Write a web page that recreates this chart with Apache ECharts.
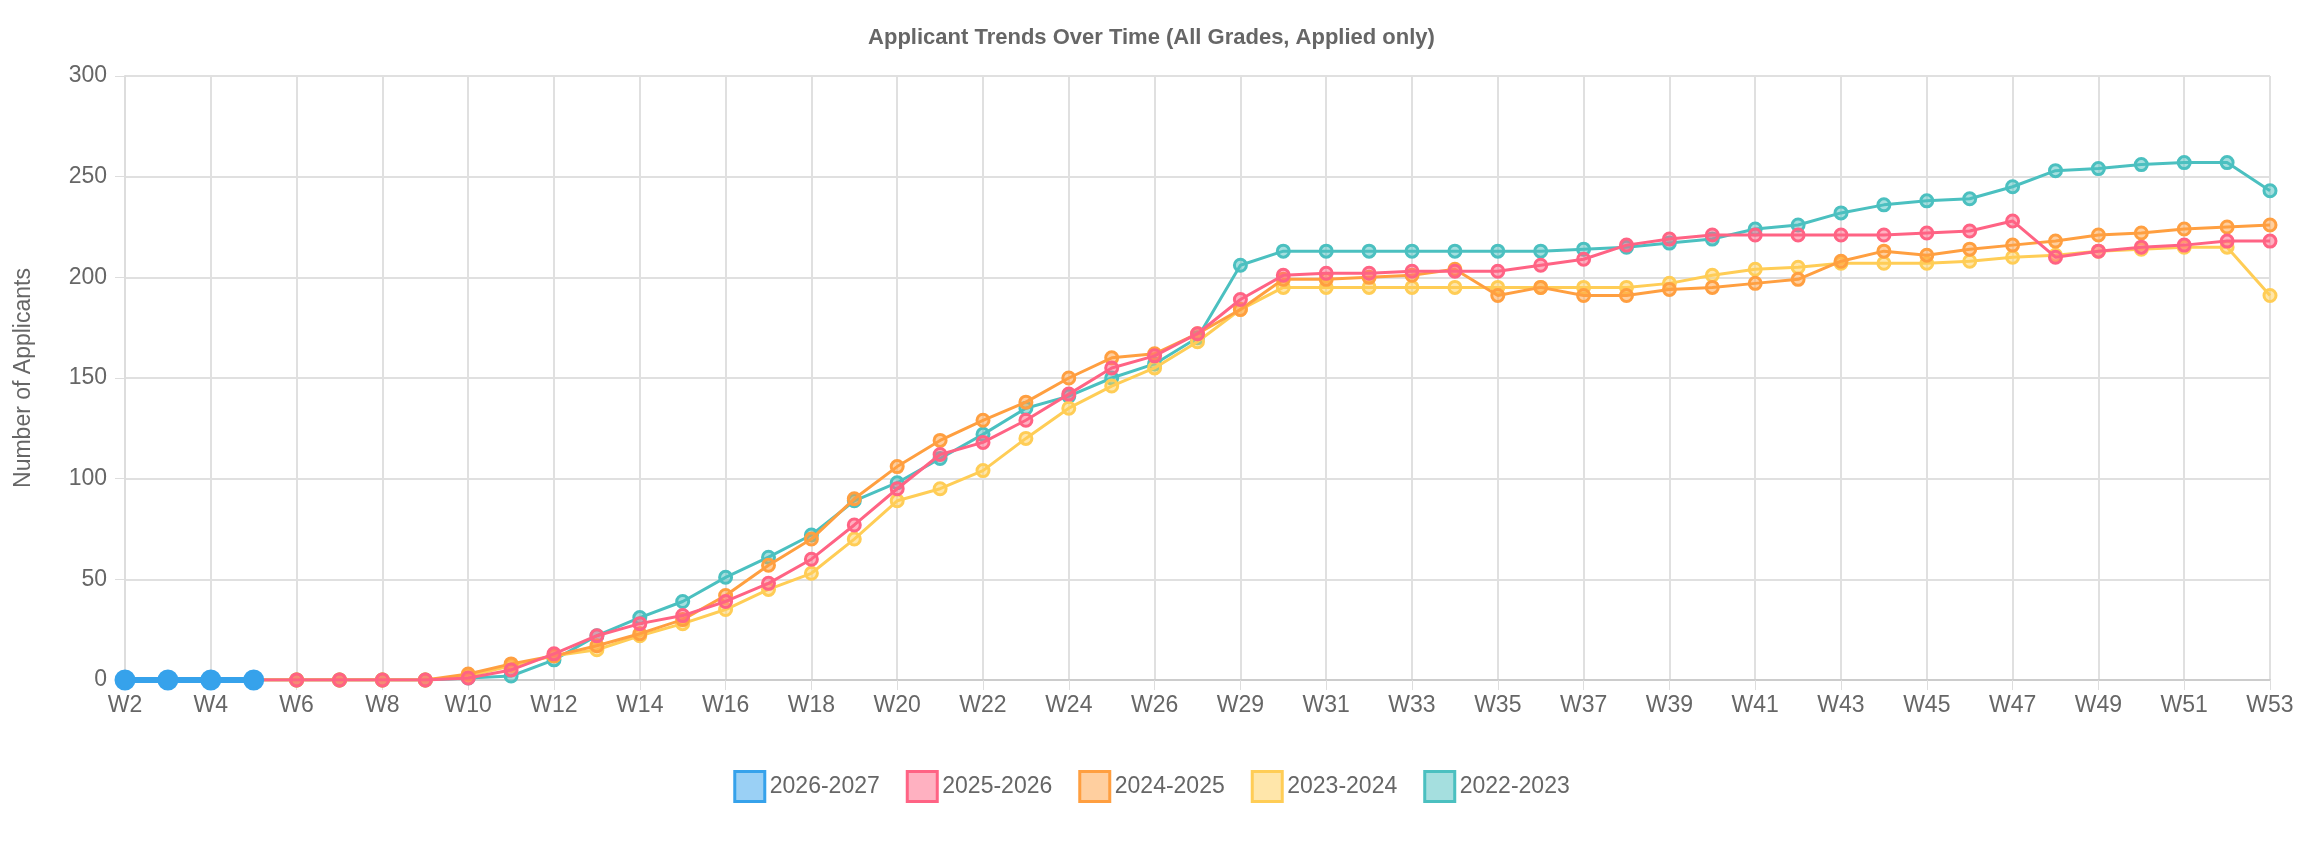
<!DOCTYPE html>
<html><head><meta charset="utf-8">
<script src="https://cdn.jsdelivr.net/npm/echarts@6/dist/echarts.min.js"></script>
<style>html,body{margin:0;padding:0;background:#fff}#c{width:2303px;height:844px}</style>
</head><body><div id="c"></div>
<script>
const weeks = [];
for (let w = 2; w <= 27; w++) weeks.push('W' + w);
for (let w = 29; w <= 53; w++) weeks.push('W' + w);
const Z8 = [0,0,0,0,0,0,0,0];
const s2026 = [0,0,0,0];
const s2025 = [...Z8,1,5,13,22,28,32,39,48,60,77,95,112,118,129,142,155,161,172,189,201,202,202,203,203,203,206,209,216,219,221,221,221,221,221,222,223,228,210,213,215,216,218,218];
const s2024 = [...Z8,3,8,12,17,23,30,42,57,70,90,106,119,129,138,150,160,162,172,184,199,199,200,201,204,191,195,191,191,194,195,197,199,208,213,211,214,216,218,221,222,224,225,226];
const s2023 = [...Z8,2,7,12,15,22,28,35,45,53,70,89,95,104,120,135,146,155,168,184,195,195,195,195,195,195,195,195,195,197,201,204,205,207,207,207,208,210,211,213,214,215,215,191];
const s2022 = [...Z8,1,2,10,22,31,39,51,61,72,89,98,110,122,135,141,150,157,170,206,213,213,213,213,213,213,213,214,215,217,219,224,226,232,236,238,239,245,253,254,256,257,257,243];
const names = ['2026-2027','2025-2026','2024-2025','2023-2024','2022-2023'];
const colors = ['#36A2EB','#FF6384','#FF9F40','#FFCD56','#4BC0C0'];
const fills = ['rgba(54,162,235,0.5)','rgba(255,99,132,0.5)','rgba(255,159,64,0.5)','rgba(255,205,86,0.5)','rgba(75,192,192,0.5)'];
const datas = [s2026,s2025,s2024,s2023,s2022];
const series = datas.map((d,i)=>({
  name: names[i], type:'line', data:d, z: 10-i,
  symbol:'circle', symbolSize: i===0?18:12, showAllSymbol:true,
  lineStyle:{color:colors[i], width: i===0?6:3},
  itemStyle:{color: i===0?colors[i]:fills[i], borderColor:colors[i], borderWidth:3},
  emphasis:{disabled:true}
}));
const chart = echarts.init(document.getElementById('c'));
chart.setOption({
  animation:false,
  title:{text:'Applicant Trends Over Time (All Grades, Applied only)', left:'center', top:22,
    textStyle:{fontFamily:'Helvetica, Liberation Sans, Arial', fontSize:22, fontWeight:'bold', color:'#666'}},
  legend:{bottom:36, itemWidth:30, itemHeight:30, itemGap:26, icon:'rect',
    textStyle:{fontFamily:'Liberation Sans', fontSize:23, color:'#666'},
    data: names.map((n,i)=>({name:n, itemStyle:{color:fills[i], borderColor:colors[i], borderWidth:3}}))},
  grid:{left:125, right:33, top:76, bottom:164},
  xAxis:{type:'category', data:weeks, boundaryGap:false,
    axisLabel:{interval:1, fontFamily:'Liberation Sans', fontSize:23, color:'#666', margin:14},
    axisTick:{show:true, interval:1, length:10, lineStyle:{color:'#ddd'}},
    axisLine:{lineStyle:{color:'#ccc', width:2}},
    splitLine:{show:true, interval:1, lineStyle:{color:'#e0e0e0', width:2}}},
  yAxis:{type:'value', min:0, max:300, interval:50, name:'Number of Applicants', nameLocation:'middle', nameGap:90,
    nameTextStyle:{fontFamily:'Liberation Sans', fontSize:23, color:'#666'},
    axisLabel:{fontFamily:'Liberation Sans', fontSize:23, color:'#666', margin:18},
    axisLine:{show:true, lineStyle:{color:'#ddd', width:2}},
    axisTick:{show:true, length:10, lineStyle:{color:'#ddd'}},
    splitLine:{lineStyle:{color:'#e0e0e0', width:2}}},
  series
});
</script></body></html>
